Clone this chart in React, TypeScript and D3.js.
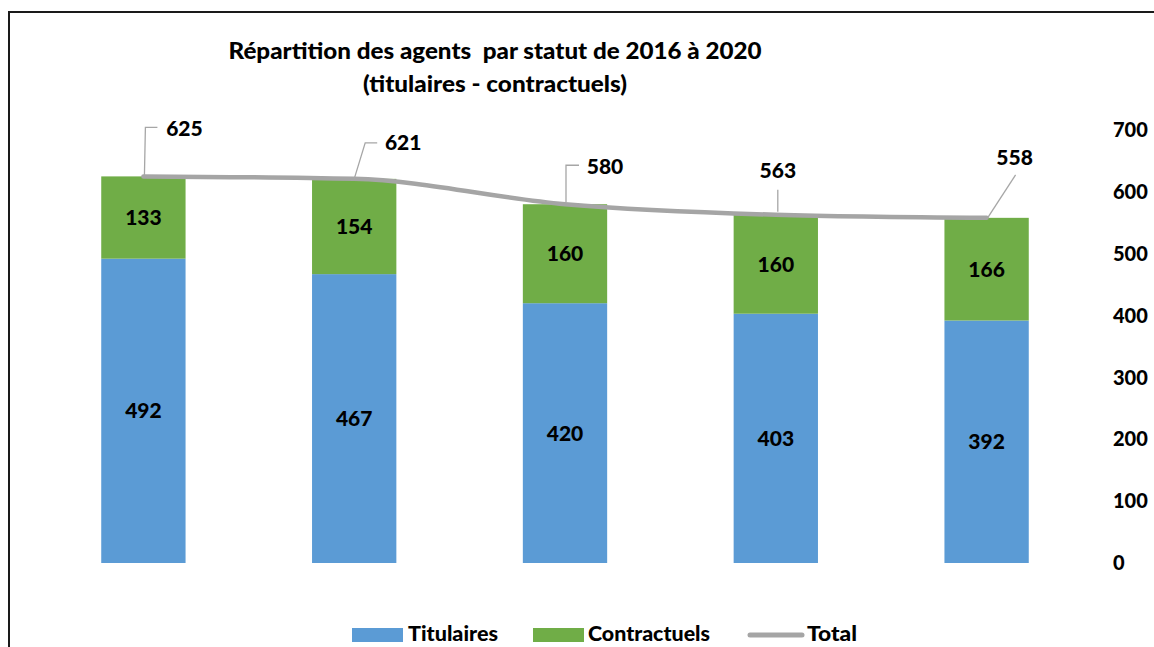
import * as d3 from "d3"

const years = ["2016", "2017", "2018", "2019", "2020"]
const titulaires = [492, 467, 420, 403, 392]
const contractuels = [133, 154, 160, 160, 166]
const totals = [625, 621, 580, 563, 558]
const yTicks = [0, 100, 200, 300, 400, 500, 600, 700]

// label placement for the total line (offset from the point, leader polyline)
const totalLabelLayout: Array<{ dx: number; dy: number; leader: Array<[number, number]> }> = [
  { dx: 41, dy: -48, leader: [[1, 0], [2, -49], [14, -49]] },
  { dx: 49, dy: -36, leader: [[0, 0], [11, -36], [23, -36]] },
  { dx: 40, dy: -38, leader: [[1, -2], [1, -39], [14, -39]] },
  { dx: 2, dy: -44, leader: [[2, -3], [2, -25]] },
  { dx: 28, dy: -60, leader: [[1, 0], [29, -43]] },
]

const BLUE = "#5b9bd5"
const GREEN = "#70ad47"
const GREY = "#a5a5a5"
const FONT = "Lato, 'Open Sans', sans-serif"

const W = 1154
const H = 647

export default function App() {
  const x = d3
    .scaleBand<string>()
    .domain(years)
    .range([38, 1092])
    .paddingInner(0.6)
    .paddingOuter(0.3)
  const y = d3.scaleLinear().domain([0, 700]).range([563, 130])

  const cx = (i: number) => (x(years[i]) ?? 0) + x.bandwidth() / 2

  const line = d3
    .line<number>()
    .x((_, i) => cx(i))
    .y((d) => y(d))
    .curve(d3.curveMonotoneX)

  return (
    <svg
      width={W}
      height={H}
      viewBox={`0 0 ${W} ${H}`}
      style={{ position: "absolute", left: 0, top: 0, display: "block", background: "#fff" }}
      fontFamily={FONT}
      fontWeight={900}
    >
      <rect x={0} y={0} width={W} height={H} fill="#fff" />
      {/* outer chart frame (runs off the right/bottom edge) */}
      <rect x={9} y={12} width={W + 20} height={H + 20} fill="none" stroke="#1a1a1a" strokeWidth={2} />

      {/* title */}
      <text x={495} y={59} textAnchor="middle" fontSize={23} fill="#000" textLength={533} lengthAdjust="spacingAndGlyphs" style={{ whiteSpace: "pre" }}>
        {"Répartition des agents  par statut de 2016 à 2020"}
      </text>
      <text x={495} y={92} textAnchor="middle" fontSize={23} fill="#000" textLength={264} lengthAdjust="spacingAndGlyphs">
        (titulaires - contractuels)
      </text>

      {/* stacked bars */}
      <g>
        {years.map((yr, i) => {
          const x0 = x(yr) ?? 0
          const bw = x.bandwidth()
          const t = titulaires[i]
          const c = contractuels[i]
          return (
            <g key={yr}>
              <rect x={x0} y={y(t)} width={bw} height={y(0) - y(t)} fill={BLUE} />
              <rect x={x0} y={y(t + c)} width={bw} height={y(t) - y(t + c)} fill={GREEN} />
              <text x={x0 + bw / 2} y={(y(0) + y(t)) / 2} dy="0.36em" textAnchor="middle" fontSize={21} fill="#000">
                {t}
              </text>
              <text x={x0 + bw / 2} y={(y(t) + y(t + c)) / 2} dy="0.36em" textAnchor="middle" fontSize={21} fill="#000">
                {c}
              </text>
            </g>
          )
        })}
      </g>

      {/* total line */}
      <path d={line(totals) ?? undefined} fill="none" stroke={GREY} strokeWidth={4.5} strokeLinecap="round" strokeLinejoin="round" />

      {/* total labels with leader lines */}
      <g>
        {totals.map((v, i) => {
          const px = cx(i)
          const py = y(v)
          const l = totalLabelLayout[i]
          const pts = l.leader.map(([a, b]) => `${px + a},${py + b}`).join(" ")
          return (
            <g key={i}>
              <polyline points={pts} fill="none" stroke="#a6a6a6" strokeWidth={1.3} />
              <text x={px + l.dx} y={py + l.dy} dy="0.36em" textAnchor="middle" fontSize={21} fill="#000">
                {v}
              </text>
            </g>
          )
        })}
      </g>

      {/* right axis labels */}
      <g>
        {yTicks.map((t) => (
          <text key={t} x={1113} y={y(t)} dy="0.36em" textAnchor="start" fontSize={20} fill="#000">
            {t}
          </text>
        ))}
      </g>

      {/* legend */}
      <g fontSize={20}>
        <rect x={352} y={628} width={51} height={14} fill={BLUE} />
        <text x={408} y={634} dy="0.36em" fill="#000" textLength={90} lengthAdjust="spacingAndGlyphs">Titulaires</text>
        <rect x={533} y={628} width={51} height={14} fill={GREEN} />
        <text x={588} y={634} dy="0.36em" fill="#000" textLength={122} lengthAdjust="spacingAndGlyphs">Contractuels</text>
        <line x1={750} x2={802} y1={635} y2={635} stroke={GREY} strokeWidth={5} strokeLinecap="round" />
        <text x={807} y={634} dy="0.36em" fill="#000" textLength={50} lengthAdjust="spacingAndGlyphs">Total</text>
      </g>
    </svg>
  )
}
